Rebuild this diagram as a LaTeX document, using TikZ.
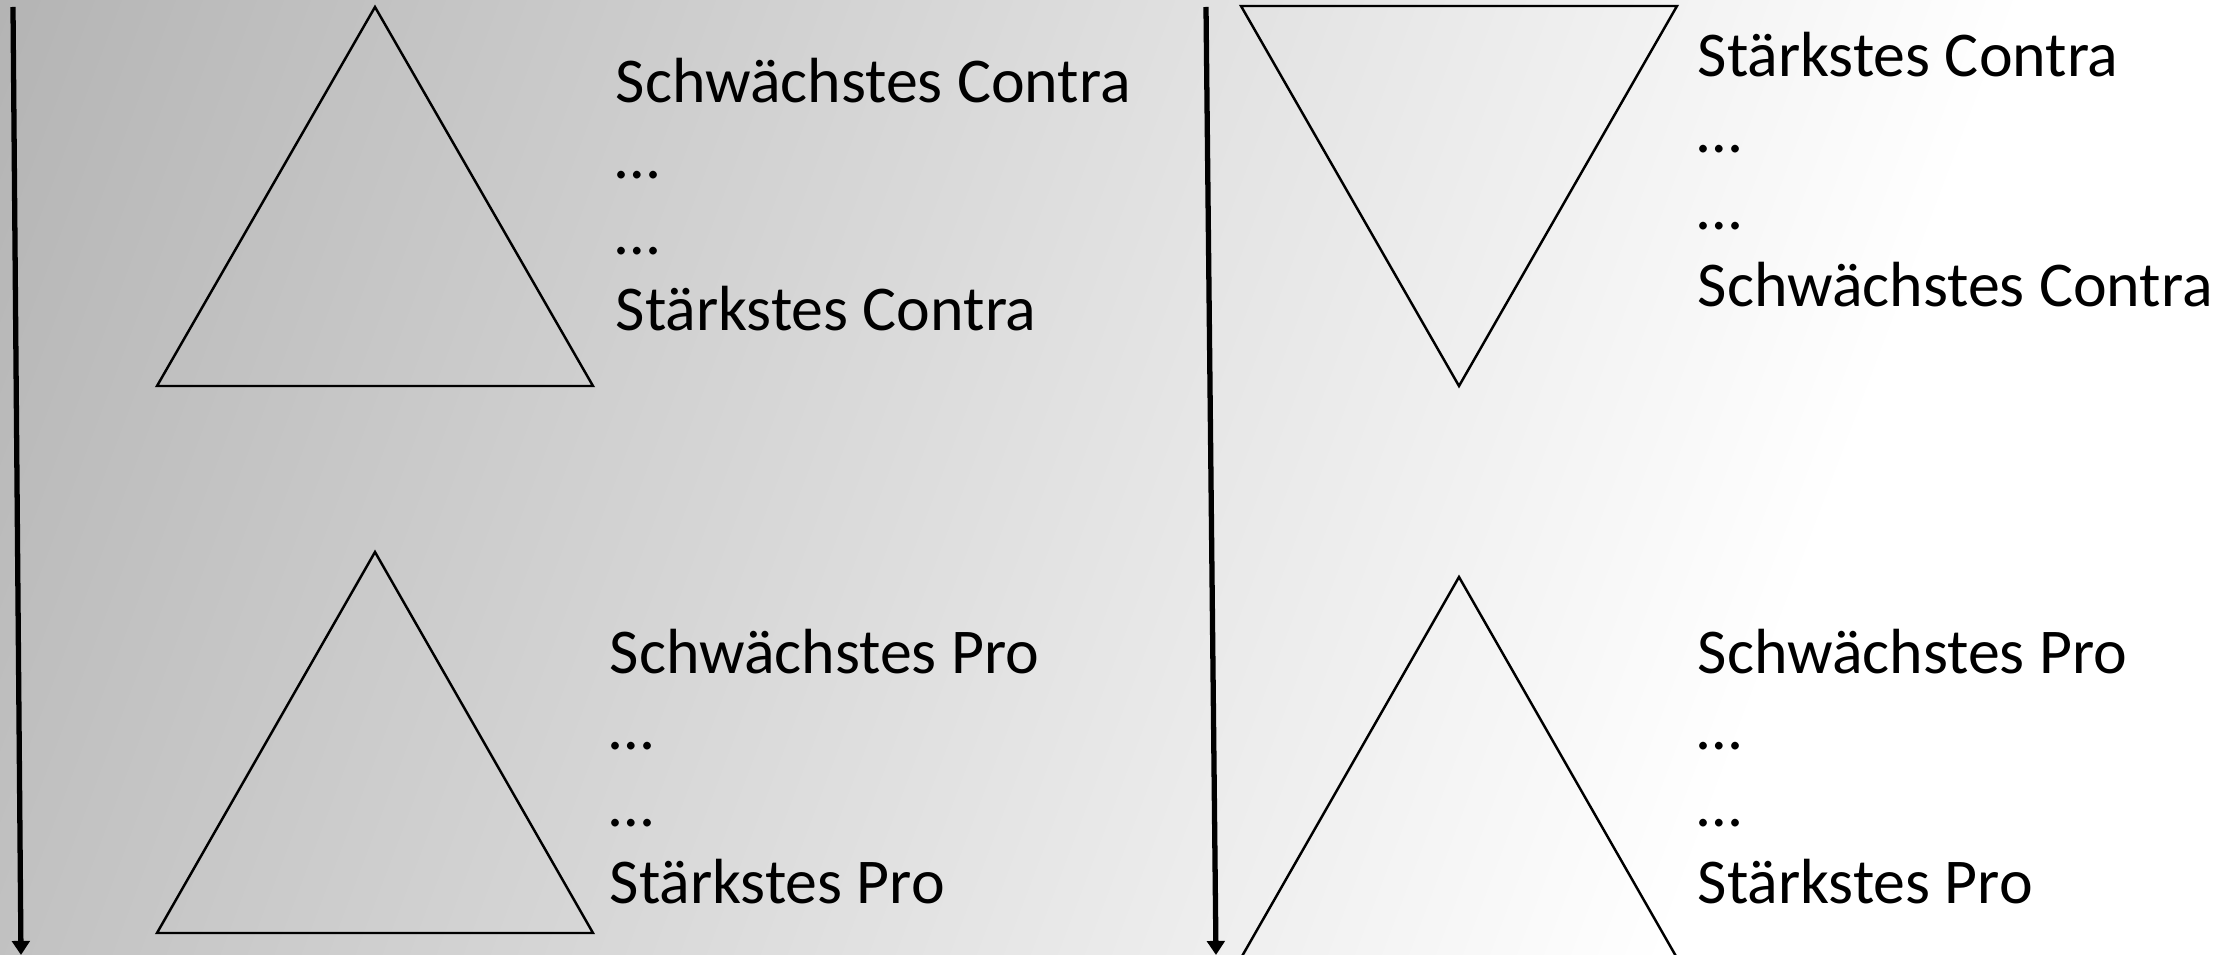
\documentclass[tikz,border=0pt]{standalone}
\usepackage{fontspec}
\setmainfont{Carlito}
\usetikzlibrary{arrows.meta}
\definecolor{bggray}{HTML}{B4B4B4}
\tikzset{
  timearrow/.style={line width=1.5pt, -{Triangle[width=5pt,length=4pt]}},
  pyramid/.style={draw=black, line width=0.7pt, line join=miter},
  argtext/.style={anchor=base west, inner sep=0pt, font=\fontsize{18.15}{21.5}\selectfont},
}
\begin{document}
\begin{tikzpicture}[x=0.01cm, y=-0.01cm]
  \useasboundingbox (0,0) rectangle (2236,955);
  % Background
  \fill[white] (0,0) rectangle (2236,955);
  \begin{scope}
    \clip (0,0) rectangle (2236,955);
    \begin{scope}[transform canvas={rotate=-20.7}]
      \shade[left color=bggray, right color=white] (0,-900) rectangle (1895,1000);
    \end{scope}
  \end{scope}
  % Arrows
  \coordinate (ltop) at (13,7);
  \coordinate (lbot) at (21,955);
  \coordinate (rtop) at (1206,7);
  \coordinate (rbot) at (1216,955);
  \draw[timearrow] (ltop) -- (lbot);
  \draw[timearrow] (rtop) -- (rbot);
  % Triangles
  \draw[pyramid] (375,7) -- (593,386) -- (157,386) -- cycle;
  \draw[pyramid] (375,552) -- (593,933) -- (157,933) -- cycle;
  \draw[pyramid] (1241,6) -- (1677,6) -- (1459,386) -- cycle;
  \draw[pyramid] (1459,577) -- (1677,958) -- (1241,958) -- cycle;
  % Labels
  \foreach \t/\y [count=\i] in {Schwächstes Contra/103, …/179, …/255, Stärkstes Contra/331}
    \node[argtext] (lc\i) at (615,\y) {\t};
  \foreach \t/\y [count=\i] in {Schwächstes Pro/673, …/749, …/826, Stärkstes Pro/903}
    \node[argtext] (lp\i) at (609,\y) {\t};
  \foreach \t/\y [count=\i] in {Stärkstes Contra/77, …/153, …/230, Schwächstes Contra/307}
    \node[argtext] (rc\i) at (1697,\y) {\t};
  \foreach \t/\y [count=\i] in {Schwächstes Pro/673, …/749, …/826, Stärkstes Pro/903}
    \node[argtext] (rp\i) at (1697,\y) {\t};
\end{tikzpicture}
\end{document}
